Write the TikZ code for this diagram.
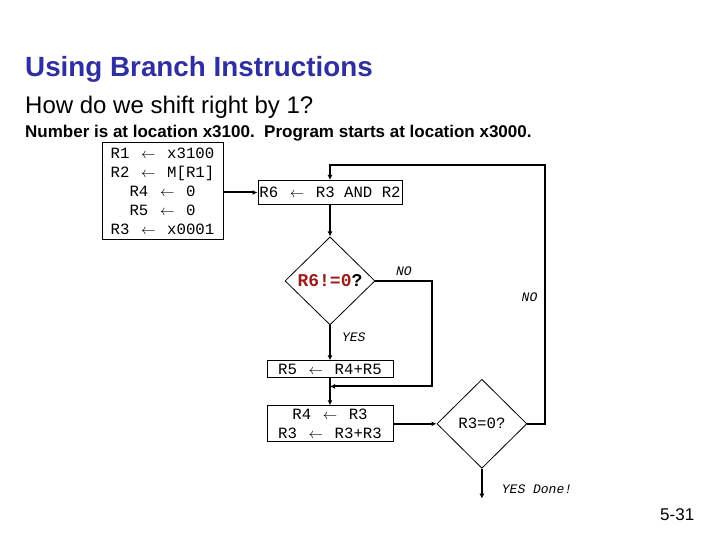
\documentclass[tikz,border=0pt]{standalone}
\usepackage{fontspec}
\setmainfont{Liberation Sans}
\setmonofont{Liberation Mono}
\usepackage{tikz}
\usetikzlibrary{positioning,arrows.meta,calc,shapes.geometric}
\definecolor{titleblue}{HTML}{2F2F9F}
\definecolor{condred}{HTML}{9E1B1B}
\newcommand\regget{\makebox[18.8pt]{$\leftarrow$}}
\tikzset{
  regbox/.style={draw=black,line width=1pt,inner sep=0pt,align=center,font=\ttfamily\fontsize{15.7}{19}\selectfont},
  test/.style={diamond,draw=black,line width=0.8pt,inner sep=0pt,aspect=1,minimum width=90pt,minimum height=88pt,font=\ttfamily\fontsize{15.7}{19}\selectfont},
  flow/.style={-{Latex[length=5pt,width=5pt]},draw=black,line width=2pt},
  lbl/.style={font=\ttfamily\itshape\fontsize{13}{15}\selectfont,inner sep=1pt},
  head/.style={anchor=base west,inner sep=0pt}}
\begin{document}
\begin{tikzpicture}[x=1pt,y=-1pt]
  \useasboundingbox (0,0) rectangle (720,540);
  % slide heading
  \node[head,font=\bfseries\fontsize{27.8}{32}\selectfont,text=titleblue] (title) at (25,77) {Using Branch Instructions};
  \node[head,font=\fontsize{24}{28}\selectfont] (question) at (25,114) {How do we shift right by 1?};
  \node[head,font=\bfseries\fontsize{17}{20}\selectfont] (given) at (25,138) {Number is at location x3100.\ \ Program starts at location x3000.};
  \node[head,font=\fontsize{17}{20}\selectfont] (slideno) at (660,520) {5-31};
  % setup, then the loop body
  \node[regbox,minimum width=121pt,minimum height=96pt] (init) at (162.5,191) {R1 \regget{} x3100\\R2 \regget{} M[R1]\\R4 \regget{} 0\\R5 \regget{} 0\\R3 \regget{} x0001};
  \node[regbox,minimum width=144pt,minimum height=24pt] (mask) at (330,192.5) {R6 \regget{} R3 AND R2};
  \node[test,below=31.5pt of mask,font=\ttfamily\bfseries\fontsize{18}{20}\selectfont] (bitset) {\textcolor{condred}{R6!=0}?};
  \node[regbox,minimum width=126pt,minimum height=17pt,below=35pt of bitset] (addin) {R5 \regget{} R4+R5};
  \node[regbox,minimum width=126pt,minimum height=36pt,below=27pt of addin] (shift) {R4 \regget{} R3\\R3 \regget{} R3+R3};
  \node[test,minimum height=89pt,right=43pt of shift] (last) {R3=0?};
  \coordinate (merge) at ($(addin.south)!0.3!(shift.north)$);
  \coordinate (done) at ($(last.south)+(0,30)$);
  % connectors
  \draw[flow] (init.east |- mask.west) -- (mask.west);
  \draw[flow] (mask) -- (bitset);
  \draw[flow] (bitset.south) -- node[lbl,right=10pt,pos=0.35]{YES} (addin.north);
  \draw[flow] (bitset.east) -- node[lbl,above=3pt]{NO} ++(57,0) |- (merge);
  \draw[flow] (addin) -- (shift);
  \draw[flow] (shift.east) -- (last.west);
  \draw[flow] (last.east) -- ++(18,0) -- node[lbl,left=6pt,pos=0.49]{NO} ++(0,-258.5) -| (mask.north);
  \draw[flow] (last.south) -- (done) node[lbl,right=18pt,pos=0.7]{YES Done!};
\end{tikzpicture}
\end{document}
